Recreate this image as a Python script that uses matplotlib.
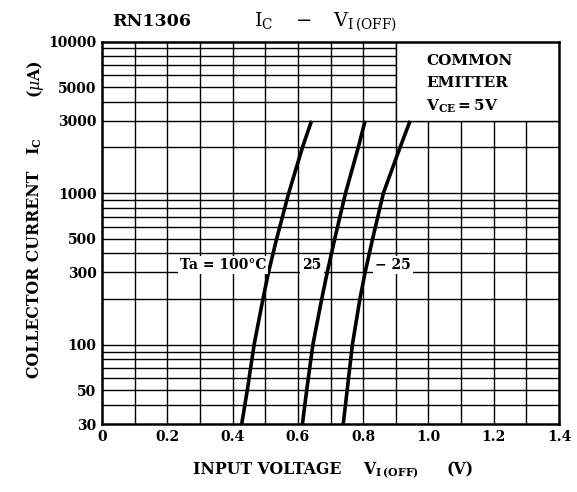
import numpy as np
import matplotlib
matplotlib.use("Agg")
import matplotlib.pyplot as plt
from matplotlib.ticker import FixedLocator, NullFormatter, NullLocator

plt.rcParams['font.family'] = ['DejaVu Serif']
plt.rcParams['mathtext.fontset'] = 'dejavuserif'

# Data (Ic in uA vs input voltage in V)
ic_values = [30, 50, 100, 200, 300, 500, 1000, 2000, 3000]
v_100 = [0.428, 0.445, 0.466, 0.493, 0.510, 0.535, 0.572, 0.614, 0.642]
v_25 = [0.614, 0.627, 0.646, 0.673, 0.690, 0.713, 0.746, 0.785, 0.806]
v_m25 = [0.739, 0.751, 0.767, 0.790, 0.806, 0.829, 0.862, 0.913, 0.944]

x_ticks = [0, 0.2, 0.4, 0.6, 0.8, 1.0, 1.2, 1.4]
x_tick_labels = ["0", "0.2", "0.4", "0.6", "0.8", "1.0", "1.2", "1.4"]
y_ticks = [30, 50, 100, 300, 500, 1000, 3000, 5000, 10000]
y_tick_labels = ["30", "50", "100", "300", "500", "1000", "3000", "5000", "10000"]

W, H = 577, 492
fig = plt.figure(figsize=(W/100, H/100), dpi=100)
ax = fig.add_axes([102/W, 1-424/H, (559-102)/W, (424-41.5)/H])
ax.set_yscale('log')
ax.set_xlim(0, 1.4)
ax.set_ylim(30, 10000)

# grid lines
for xv in np.arange(0.1, 1.4, 0.1):
    ax.axvline(xv, color='black', lw=1.0, zorder=1)
grid_y = [v * 10**d for d in range(1, 4) for v in range(1, 10)] + [10000]
for yv in grid_y:
    if 30 < yv < 10000:
        ax.axhline(yv, color='black', lw=1.0, zorder=1)

for v in (v_100, v_25, v_m25):
    ax.plot(v, ic_values, color='black', lw=2.6, zorder=3,
            solid_capstyle='butt', solid_joinstyle='round')

for s in ax.spines.values():
    s.set_linewidth(1.8)

ax.xaxis.set_major_locator(FixedLocator(x_ticks))
ax.set_xticklabels(x_tick_labels, fontsize=10, fontweight='bold')
ax.yaxis.set_major_locator(FixedLocator(y_ticks))
ax.yaxis.set_minor_locator(NullLocator())
ax.yaxis.set_minor_formatter(NullFormatter())
ax.set_yticklabels(y_tick_labels, fontsize=10, fontweight='bold')
ax.tick_params(axis='both', length=0, pad=4)

# white box upper-right
ax.fill_between([0.9, 1.4], 3000, 10000, color='white', zorder=2, lw=0)
ax.plot([0.9, 0.9, 1.4], [10000, 3000, 3000], color='black', lw=1.0, zorder=2)
bx = 0.993
ax.text(bx, 10**(3 + (191.7 - 60.5) / 151), "COMMON", ha='left', va='center',
        fontsize=11, fontweight='bold', zorder=4)
ax.text(bx, 10**(3 + (191.7 - 82.5) / 151), "EMITTER", ha='left', va='center',
        fontsize=11, fontweight='bold', zorder=4)
ax.text(bx, 10**(3 + (191.7 - 105) / 151), r"V$_{\mathregular{CE}}$$\mathregular{=5V}$",
        ha='left', va='center', fontsize=11, fontweight='bold', zorder=4)

bb = dict(facecolor='white', edgecolor='none', pad=1.5)
ax.text(0.371, 334, "Ta = 100°C", ha='center', va='center', fontsize=10,
        fontweight='bold', bbox=bb, zorder=4)
ax.text(0.643, 334, "25", ha='center', va='center', fontsize=10,
        fontweight='bold', bbox=bb, zorder=4)
ax.text(0.891, 334, "\u2212 25", ha='center', va='center', fontsize=10,
        fontweight='bold', bbox=bb, zorder=4)

# titles
fig.text(152/W, 1-21/H, "RN1306", ha='center', va='center', fontsize=12.5, fontweight='bold')
fig.text(326/W, 1-22/H, r"$\mathregular{I_C\quad -\quad V_{I\,(OFF)}}$",
         ha='center', va='center', fontsize=14)

# y label (in parts)
fig.text(35/W, 1-274.5/H, "COLLECTOR CURRENT", rotation=90, ha='center', va='center',
         fontsize=11.3, fontweight='bold')
fig.text(35/W, 1-146/H, r"I$_\mathregular{C}$", rotation=90, ha='center', va='center',
         fontsize=11.3, fontweight='bold')
fig.text(35/W, 1-79.5/H, r"($\mu$A)", rotation=90, ha='center', va='center',
         fontsize=11.3, fontweight='bold')

# x label (in parts)
fig.text(267.5/W, 1-470/H, "INPUT VOLTAGE", ha='center', va='center',
         fontsize=11.3, fontweight='bold')
fig.text(391.5/W, 1-471/H, r"V$_\mathregular{I\,(OFF)}$", ha='center', va='center',
         fontsize=11.3, fontweight='bold')
fig.text(460/W, 1-470/H, "(V)", ha='center', va='center',
         fontsize=11.3, fontweight='bold')

fig.savefig("out.png", dpi=100)
